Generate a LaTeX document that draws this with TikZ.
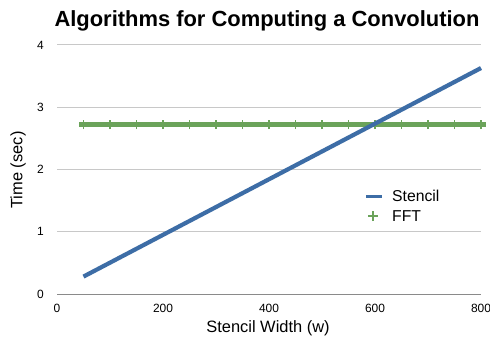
\documentclass[tikz,border=0pt]{standalone}
\usepackage{fontspec}
\setmainfont{Liberation Sans}
\definecolor{stencilblue}{HTML}{3D6DA6}
\definecolor{fftgreen}{HTML}{6BA35A}
\definecolor{gridgray}{HTML}{C8C8C8}
\definecolor{axisgray}{HTML}{8A8A8A}
\begin{document}
\begin{tikzpicture}[x=1bp,y=1bp,
  gridline/.style={draw=gridgray,line width=1bp},
  zeroline/.style={draw=axisgray,line width=1bp},
  ticklabel/.style={font=\fontsize{12}{14}\selectfont,inner sep=0pt},
  axistitle/.style={font=\fontsize{16.5}{18}\selectfont,inner sep=0pt},
  legendtext/.style={font=\fontsize{15.8}{18}\selectfont,inner sep=0pt,anchor=west},
  stencilline/.style={draw=stencilblue,line width=4.2bp},
  fftline/.style={draw=fftgreen,line width=5bp},
  plusmark/.style={draw=fftgreen,line width=1.4bp}]
\useasboundingbox (0,0) rectangle (490,343);
\fill[white] (0,0) rectangle (490,343);
% title
\node[font=\bfseries\fontsize{22}{25}\selectfont,inner sep=0pt] (title) at (267,322) {Algorithms for Computing a Convolution};
% data scope: origin (57,49), x 0.53bp/unit, y 62.25bp/unit
\begin{scope}[shift={(57,49)},x=0.53bp,y=62.25bp]
  \foreach \v in {1,2,3,4} {
    \coordinate (gl\v) at (0,\v);
    \coordinate (gr\v) at (800,\v);
    \draw[gridline] (gl\v) -- (gr\v);
    \node[ticklabel,anchor=east] (yl\v) at ([xshift=-13bp]gl\v) {\v};
  }
  \coordinate (gl0) at (0,0);
  \coordinate (gr0) at (800,0);
  \draw[zeroline] (gl0) -- (gr0);
  \node[ticklabel,anchor=east] (yl0) at ([xshift=-13bp]gl0) {0};
  \foreach \v in {0,200,400,600,800} {
    \node[ticklabel] (xl\v) at (\v,-0.23) {\v};
  }
  % FFT
  \coordinate (fa) at (50,2.72);
  \coordinate (fb) at (800,2.72);
  \draw[fftline] ([xshift=-4.5bp]fa) -- ([xshift=4.5bp]fb);
  \foreach \v in {50,100,...,800} {
    \coordinate (m\v) at (\v,2.72);
    \draw[plusmark] ([yshift=-4.5bp]m\v) -- ([yshift=4.5bp]m\v);
  }
  % Stencil
  \coordinate (sa) at (50,0.28);
  \coordinate (sb) at (800,3.63);
  \draw[stencilline] (sa) -- (sb);
\end{scope}
% axis titles
\node[axistitle] (xt) at (268,15) {Stencil Width (w)};
\node[axistitle,rotate=90] (yt) at (18,173) {Time (sec)};
% legend
\coordinate (ls1) at (366,147);
\coordinate (ls2) at (382,147);
\draw[draw=stencilblue,line width=3bp] (ls1) -- (ls2);
\node[legendtext] (lstencil) at (392,147) {Stencil};
\coordinate (lp) at (373,127);
\draw[plusmark,line width=1.6bp] ([xshift=-5bp]lp) -- ([xshift=5bp]lp);
\draw[plusmark,line width=1.6bp] ([yshift=-5bp]lp) -- ([yshift=5bp]lp);
\node[legendtext] (lfft) at (392,127) {FFT};
\end{tikzpicture}
\end{document}
